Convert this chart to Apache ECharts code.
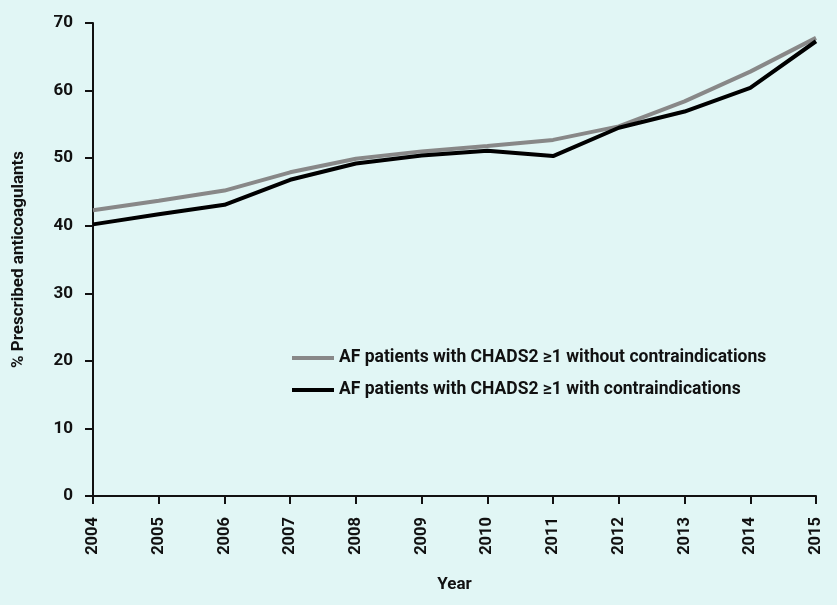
<!DOCTYPE html>
<html><head><meta charset="utf-8">
<script src="https://cdn.jsdelivr.net/npm/echarts@6/dist/echarts.min.js"></script>
<style>html,body{margin:0;padding:0;background:#e1f6f5;}#c{width:837px;height:605px;}</style>
</head><body><div id="c"></div>
<script>
var years = [2004, 2005, 2006, 2007, 2008, 2009, 2010, 2011, 2012, 2013, 2014, 2015];
var withoutContra = [42.3, 43.7, 45.2, 47.9, 49.9, 51.0, 51.8, 52.7, 54.7, 58.4, 62.8, 67.8];
var withContra = [40.2, 41.7, 43.1, 46.8, 49.2, 50.4, 51.1, 50.3, 54.5, 56.9, 60.4, 67.3];
var seriesNames = ['AF patients with CHADS2 \u22651 without contraindications', 'AF patients with CHADS2 \u22651 with contraindications'];
var font = 'Roboto';
function pairs(vals) { return years.map(function (y, i) { return [y, vals[i]]; }); }
var chart = echarts.init(document.getElementById('c'));
chart.setOption({
  backgroundColor: '#e1f6f5',
  animation: false,
  grid: {left: 93, right: 21, top: 23, bottom: 109, containLabel: false},
  legend: {
    orient: 'vertical', left: 287, top: 344, itemGap: 14, itemWidth: 42, itemHeight: 20,
    icon: 'path://M0,0 L42,0 L42,4 L0,4 Z',
    textStyle: {fontFamily: font, fontWeight: 'bold', fontSize: 17.5, color: '#111'},
    data: [
      {name: seriesNames[0], itemStyle: {color: '#888888'}},
      {name: seriesNames[1], itemStyle: {color: '#000000'}}
    ]
  },
  xAxis: {
    type: 'value', min: 2004, max: 2015, interval: 1,
    name: 'Year', nameLocation: 'middle', nameGap: 80,
    nameTextStyle: {fontFamily: font, fontWeight: 'bold', fontSize: 17, color: '#111'},
    axisLine: {show: true, onZero: false, lineStyle: {color: '#111', width: 2}},
    axisTick: {show: true, length: 8, lineStyle: {color: '#111', width: 2}},
    axisLabel: {rotate: 90, margin: 21, fontFamily: font, fontWeight: 'bold', fontSize: 16.5, color: '#111',
      formatter: function (v) { return String(v); }},
    splitLine: {show: false}
  },
  yAxis: {
    type: 'value', min: 0, max: 70, interval: 10,
    name: '% Prescribed anticoagulants', nameLocation: 'middle', nameGap: 66, nameRotate: 90,
    nameTextStyle: {fontFamily: font, fontWeight: 'bold', fontSize: 17, color: '#111'},
    axisLine: {show: true, lineStyle: {color: '#111', width: 2}},
    axisTick: {show: true, length: 8, lineStyle: {color: '#111', width: 2}},
    axisLabel: {margin: 20, fontFamily: font, fontWeight: 'bold', fontSize: 17, color: '#111'},
    splitLine: {show: false}
  },
  series: [
    {name: seriesNames[0], type: 'line', data: pairs(withoutContra), symbol: 'none', lineStyle: {color: '#888888', width: 4}, itemStyle: {color: '#888888'}, z: 2},
    {name: seriesNames[1], type: 'line', data: pairs(withContra), symbol: 'none', lineStyle: {color: '#000000', width: 4}, itemStyle: {color: '#000000'}, z: 3}
  ]
});
</script></body></html>
